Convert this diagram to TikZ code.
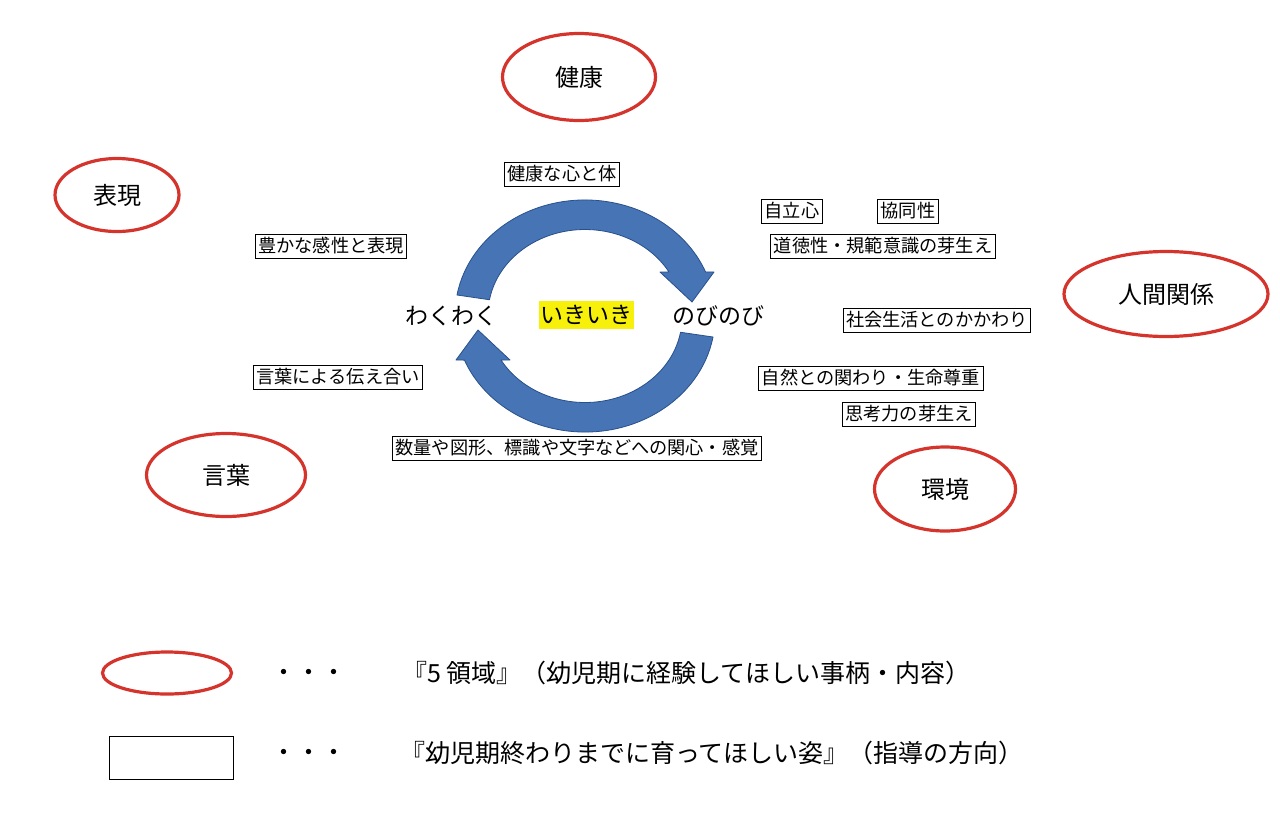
\documentclass[tikz,border=0pt]{standalone}
\usepackage{fontspec}
\setmainfont{Noto Sans CJK JP}
\usetikzlibrary{shapes.geometric}
\definecolor{ringred}{RGB}{212,52,44}
\definecolor{ribbonblue}{RGB}{70,116,180}
\definecolor{ribbonedge}{RGB}{40,80,140}
\definecolor{markyellow}{RGB}{246,240,10}
\tikzset{
  field/.style={ellipse,draw=ringred,line width=3.2pt,inner sep=0pt,
    font=\fontsize{24}{24}\selectfont},
  aim/.style={draw,line width=1pt,inner xsep=3pt,inner ysep=3pt,
    text height=15.8pt,text depth=2.2pt,font=\fontsize{18.2}{18}\selectfont},
  mood/.style={inner xsep=1.5pt,inner ysep=2.5pt,text height=20.2pt,
    text depth=2.8pt,font=\fontsize{23}{23}\selectfont},
  ribbon/.style={fill=ribbonblue,draw=ribbonedge,line width=0.8pt,line join=round},
  legendtext/.style={anchor=west,inner sep=0pt,text height=22pt,
    text depth=3pt,font=\fontsize{25}{25}\selectfont}
}
\begin{document}
\begin{tikzpicture}[x=1pt,y=-1pt]
\useasboundingbox (0,0) rectangle (1280,836);
% the two turning arrows
\foreach \turn in {0,180}
  \filldraw[ribbon,rotate around={\turn:(585,316)}] (457,295)
    arc[start angle=190,end angle=338,x radius=130,y radius=115]
    -- (714,272) -- (692,302) -- (660,272) -- (669,272)
    arc[start angle=330,end angle=190,x radius=97,y radius=85] -- cycle;
\node[mood] (waku) at (451,316) {わくわく};
\node[mood,fill=markyellow] (iki) at (586,315) {いきいき};
\node[mood] (nobi) at (718,316) {のびのび};
% five areas
\node[field,minimum width=153pt,minimum height=87pt] (kenko) at (579,77) {健康};
\node[field,minimum width=124pt,minimum height=73pt] (hyogen) at (117,195) {表現};
\node[field,minimum width=204pt,minimum height=85pt] (ningen) at (1166,294) {人間関係};
\node[field,minimum width=159pt,minimum height=83pt] (kotoba) at (226,475) {言葉};
\node[field,minimum width=141pt,minimum height=84pt] (kankyo) at (945,489) {環境};
% growth aims
\node[aim] (kokoro) at (562,174) {健康な心と体};
\node[aim] (kansei) at (331,246) {豊かな感性と表現};
\node[aim] (tsutae) at (338,377) {言葉による伝え合い};
\node[aim] (suryo) at (577,448) {数量や図形、標識や文字などへの関心・感覚};
\node[aim] (jiritsu) at (792,211) {自立心};
\node[aim] (kyodo) at (908,211) {協同性};
\node[aim] (dotoku) at (883,246) {道徳性・規範意識の芽生え};
\node[aim] (shakai) at (937,320) {社会生活とのかかわり};
\node[aim] (shizen) at (871,378) {自然との関わり・生命尊重};
\node[aim] (shiko) at (909,414) {思考力の芽生え};
% legend
\node[field,minimum width=129pt,minimum height=42pt] (keyring) at (167,673) {};
\draw[line width=1pt] (109,736) rectangle (233,779);
\node[legendtext] (dotsa) at (271,672) {・・・};
\node[legendtext] (dotsb) at (271,752) {・・・};
\node[legendtext] (keya) at (402,673) {『5 領域』（幼児期に経験してほしい事柄・内容）};
\node[legendtext] (keyb) at (400,753) {『幼児期終わりまでに育ってほしい姿』（指導の方向）};
\end{tikzpicture}
\end{document}
